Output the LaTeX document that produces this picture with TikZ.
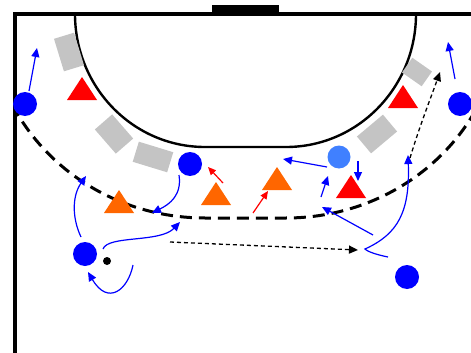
\documentclass[tikz,border=0pt]{standalone}
\usetikzlibrary{arrows.meta}
\definecolor{pblue}{HTML}{0000FF}
\definecolor{plight}{HTML}{4080FF}
\definecolor{pred}{HTML}{FF0000}
\definecolor{porange}{HTML}{FF6600}
\definecolor{pgrey}{HTML}{C4C4C4}
\tikzset{
  court/.style={line width=4pt},
  goalarea/.style={line width=2.4pt},
  freethrow/.style={line width=3pt, dash pattern=on 12pt off 7pt},
  zone/.style={fill=pgrey, draw=none, inner sep=0pt},
  player/.style={circle, fill=pblue, minimum size=24pt, inner sep=0pt},
  lplayer/.style={circle, fill=plight, minimum size=23pt, inner sep=0pt},
  ball/.style={circle, fill=black, minimum size=8pt, inner sep=0pt},
  run/.style={draw=pblue, line width=1.2pt, -{Triangle[length=9pt,width=8pt]}},
  redrun/.style={draw=pred, line width=1.2pt, -{Triangle[length=8pt,width=7pt]}},
  pass/.style={draw=black, line width=1.3pt, dash pattern=on 4pt off 3pt, -{Triangle[length=9pt,width=8pt]}},
}
\newcommand\deftri[4]{\fill[#4] (#2-15,#3+11) -- (#2+15,#3+11) -- (#2,#3-12) -- cycle; \coordinate (#1) at (#2,#3);}
\begin{document}
\begin{tikzpicture}[x=1pt,y=-1pt]
\useasboundingbox (0,0) rectangle (471,353);
% court
\draw[court] (14.5,353) -- (14.5,14) -- (471,14);
\fill (212,5) rectangle (279,14);
% goal area line
\draw[goalarea] (75,14) .. controls (75,87.4) and (133.2,147) .. (205,147)
  -- (286,147) .. controls (357.8,147) and (416,87.4) .. (416,14);
% free throw line
\begin{scope}
\clip (17,16) rectangle (471,353);
\draw[freethrow] (-10,14) .. controls (-10,126.6) and (86.3,218) .. (205,218)
  -- (286,218) .. controls (404.7,218) and (501,126.6) .. (501,14);
\end{scope}
% zones
\node[zone, minimum width=21pt, minimum height=34pt, rotate=17] (z1) at (69,52) {};
\node[zone, minimum width=23pt, minimum height=32pt, rotate=41] (z2) at (114,134) {};
\node[zone, minimum width=36pt, minimum height=21pt, rotate=-17] (z3) at (153,157) {};
\node[zone, minimum width=34pt, minimum height=22pt, rotate=40] (z4) at (377,134) {};
\node[zone, minimum width=24pt, minimum height=18pt, rotate=-35] (z5) at (417,72) {};
% defenders
\deftri{d1}{82}{89}{pred}
\deftri{d2}{403}{97}{pred}
\deftri{d3}{351}{187}{pred}
\deftri{o1}{119}{202}{porange}
\deftri{o2}{216}{194}{porange}
\deftri{o3}{277}{179}{porange}
% attackers
\node[player] (p1) at (25,104) {};
\node[player] (p2) at (190,164) {};
\node[player] (p3) at (460,104) {};
\node[player] (p4) at (85,254) {};
\node[player] (p5) at (407,277) {};
\node[lplayer] (p6) at (339,157) {};
\node[ball] (b) at (107,261) {};
% runs
\draw[run] (29,91) -- (37,48);
\draw[run] (455,79) -- (448,42);
\draw[run] (81,237) .. controls (72,218) and (72,196) .. (86,176);
\draw[run] (103,249) .. controls (108,235) and (160,243) .. (180,222);
\draw[run] (133,265) .. controls (128,290) and (108,306) .. (88,272);
\draw[run] (179,175) .. controls (182,195) and (170,204) .. (152,213);
\draw[run] (327,167) -- (283,159);
\draw[run] (358,161) -- (358,181);
\draw[run] (321,197) -- (328,176);
\draw[run] (373,235) -- (322,207);
\draw[run] (388,257) .. controls (378,255) and (368,252) .. (365,249)
  .. controls (398,234) and (410,212) .. (408,155);
\draw[redrun] (223,183) -- (208,167);
\draw[redrun] (253,213) -- (268,191);
% passes
\draw[pass] (170,242) -- (358,250);
\draw[pass] (410,158) .. controls (420,125) and (430,100) .. (440,72);
\end{tikzpicture}
\end{document}
